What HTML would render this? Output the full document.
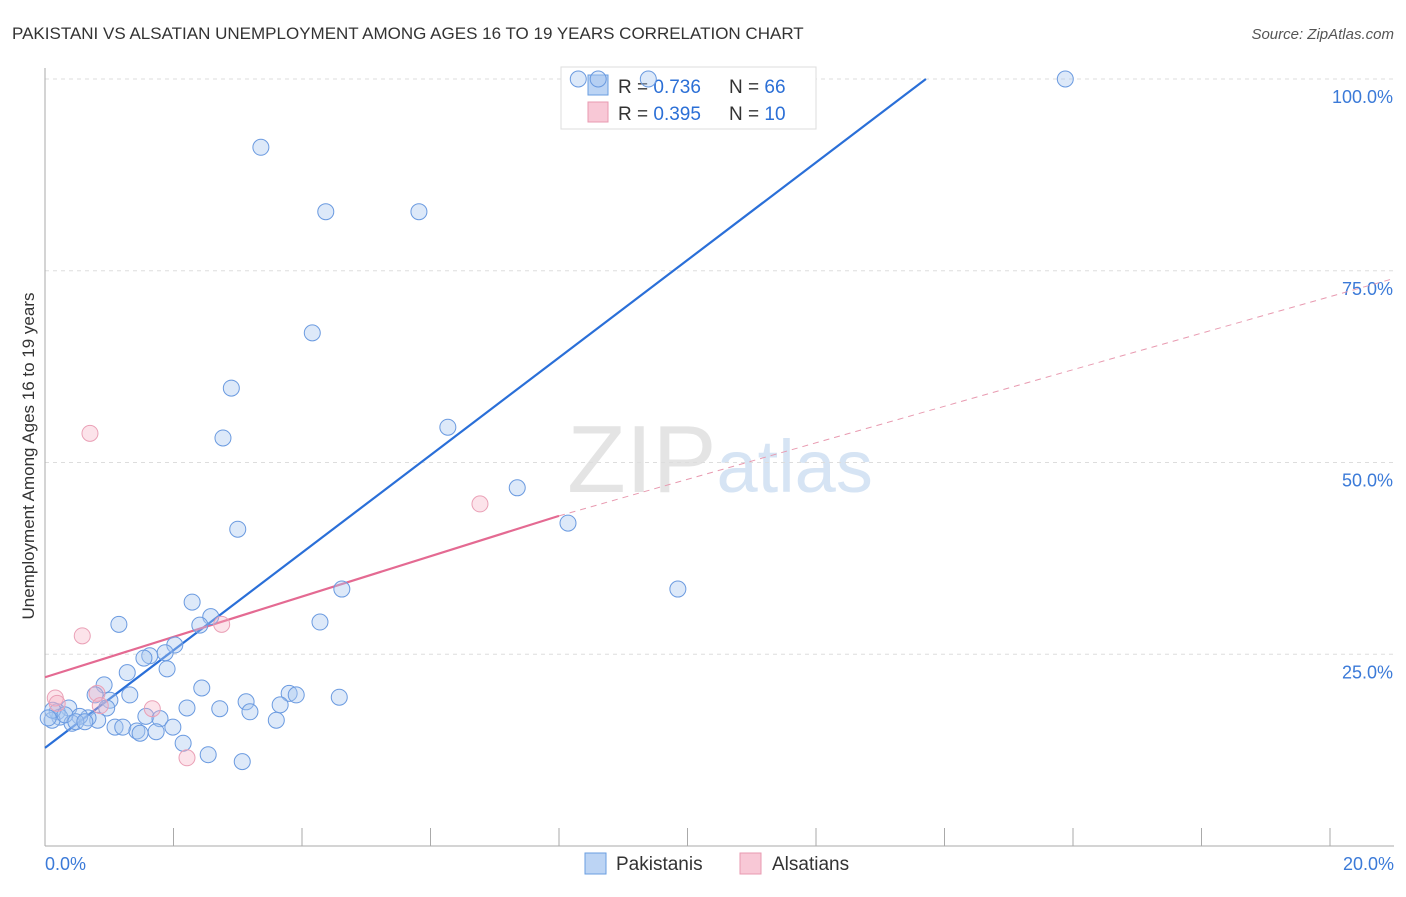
<!DOCTYPE html>
<html><head><meta charset="utf-8"><style>
body{margin:0;background:#fff;font-family:"Liberation Sans",sans-serif}
svg text{font-family:"Liberation Sans",sans-serif}
</style></head><body>
<svg id="chart" width="1406" height="892" xmlns="http://www.w3.org/2000/svg">
<text x="12" y="39" font-size="17" fill="#333">PAKISTANI VS ALSATIAN UNEMPLOYMENT AMONG AGES 16 TO 19 YEARS CORRELATION CHART</text>
<text x="1394" y="39" font-size="15" fill="#555" text-anchor="end" font-style="italic">Source: ZipAtlas.com</text>
<text x="720" y="492" font-size="96" text-anchor="middle" fill="#e4e4e4" font-family="Liberation Serif">ZIP<tspan fill="#d6e4f4" font-family="Liberation Sans" font-size="74">atlas</tspan></text>
<text transform="translate(34,456) rotate(-90)" font-size="17" fill="#333" text-anchor="middle">Unemployment Among Ages 16 to 19 years</text>
<g id="grid"></g><g id="axes"></g><g id="lines"></g>
<g>
<rect x="561" y="67" width="255" height="62" fill="#fff" stroke="#ddd"/>
<rect x="588" y="75" width="20" height="20" fill="#bcd4f4" stroke="#6a9ee0"/>
<text x="618" y="93" font-size="19" fill="#333">R = <tspan fill="#2b6fd6">0.736</tspan></text>
<text x="729" y="93" font-size="19" fill="#333">N = <tspan fill="#2b6fd6">66</tspan></text>
<rect x="588" y="102" width="20" height="20" fill="#f8c8d6" stroke="#e89ab0"/>
<text x="618" y="120" font-size="19" fill="#333">R = <tspan fill="#2b6fd6">0.395</tspan></text>
<text x="729" y="120" font-size="19" fill="#333">N = <tspan fill="#2b6fd6">10</tspan></text>
</g>
<g id="pts"></g>
<g>
<rect x="585" y="853" width="21" height="21" fill="#bcd4f4" stroke="#6a9ee0"/>
<text x="616" y="870" font-size="19" fill="#333">Pakistanis</text>
<rect x="740" y="853" width="21" height="21" fill="#f8c8d6" stroke="#e89ab0"/>
<text x="772" y="870" font-size="19" fill="#333">Alsatians</text>
</g>
</svg>
<script>
const pkX=[8.30,8.61,9.39,15.88,3.36,4.37,5.82,4.16,2.90,2.77,6.27,7.35,8.14,3.00,9.85,4.62,2.29,4.28,2.58,1.15,2.41,2.02,1.87,1.63,1.54,1.90,1.28,0.92,2.44,3.80,3.91,4.58,1.32,0.78,1.01,3.13,3.66,2.21,2.72,3.19,0.96,0.37,0.19,1.57,1.79,3.60,0.82,0.67,0.54,0.23,0.11,0.42,1.09,1.21,1.99,1.43,1.73,1.48,2.15,2.54,3.07,0.12,0.05,0.31,0.48,0.62];
const pkY=[100,100,100,100,91.1,82.7,82.7,66.9,59.7,53.2,54.6,46.7,42.1,41.3,33.5,33.5,31.8,29.2,29.9,28.9,28.8,26.2,25.2,24.8,24.5,23.1,22.6,21.0,20.6,19.9,19.7,19.4,19.7,19.7,19.0,18.8,18.4,18.0,17.9,17.5,18.0,18.0,17.5,16.9,16.6,16.4,16.4,16.7,16.9,16.8,16.4,16.0,15.5,15.5,15.5,15.0,14.9,14.7,13.4,11.9,11.0,17.7,16.7,17.1,16.2,16.2];
const alX=[0.70,6.77,0.58,2.75,0.81,1.67,2.21,0.16,0.19,0.86];
const alY=[53.8,44.6,27.4,28.9,19.9,17.9,11.5,19.3,18.6,18.3];
const yTicks=[25,50,75,100];
const yTickLabels=["25.0%","50.0%","75.0%","100.0%"];
const xTicks=[0,2,4,6,8,10,12,14,16,18,20];
const pkFit=[12.8,6.36];
const alFit=[22.0,2.63];
const alDashEnd=74.0;
const NS="http://www.w3.org/2000/svg";
const X=v=>45+v*64.25, Y=v=>846-v*7.67;
function mk(t,a,p){const e=document.createElementNS(NS,t);for(const k in a)e.setAttribute(k,a[k]);document.getElementById(p).appendChild(e);return e;}
yTicks.forEach((t,i)=>{
 const g=mk('line',{x1:45,x2:1394,y1:Y(t),y2:Y(t),stroke:'#ddd','stroke-dasharray':'4,4'},'grid');
 
 
 const l=mk('text',{x:1393,y:Y(t)+24,'font-size':18,fill:'#3b7ad8','text-anchor':'end'},'axes');
 l.textContent=yTickLabels[i];
 
 
});
const ax=mk('line',{x1:45,x2:45,y1:68,y2:846,stroke:'#aaa'},'axes');


const bx=mk('line',{x1:45,x2:1394,y1:846,y2:846,stroke:'#aaa'},'axes');


xTicks.forEach(t=>{
 const k=mk('line',{x1:X(t),x2:X(t),y1:828,y2:846,stroke:'#aaa'},'axes');
 
 
});
[[0,'start',45],[20,'end',1394]].forEach(([t,a,x])=>{
 const l=mk('text',{x:x,y:870,'font-size':18,fill:'#3b7ad8','text-anchor':a},'axes');
 l.textContent=t.toFixed(1)+'%';
 
 
});
const xEnd=(100-pkFit[0])/pkFit[1];
const bl=mk('line',{x1:X(0),y1:Y(pkFit[0]),x2:X(xEnd),y2:Y(100),stroke:'#2a6fd8','stroke-width':2.2},'lines');


const pl=mk('line',{x1:X(0),y1:Y(alFit[0]),x2:X(8),y2:Y(alFit[0]+8*alFit[1]),stroke:'#e46a92','stroke-width':2.2},'lines');


const pd=mk('line',{x1:X(8),y1:Y(alFit[0]+8*alFit[1]),x2:1394,y2:Y(alDashEnd),stroke:'#e89ab0','stroke-width':1,'stroke-dasharray':'6,5'},'lines');


pkX.forEach((x,i)=>{
 const c=mk('circle',{cx:X(x),cy:Y(pkY[i]),r:8,fill:'rgba(170,200,240,0.4)',stroke:'#6a9ae0','stroke-width':1},'pts');
 
 
});
alX.forEach((x,i)=>{
 const c=mk('circle',{cx:X(x),cy:Y(alY[i]),r:8,fill:'rgba(245,175,195,0.35)',stroke:'#eaa0b6','stroke-width':1},'pts');
 
 
});
</script>
</body></html>
